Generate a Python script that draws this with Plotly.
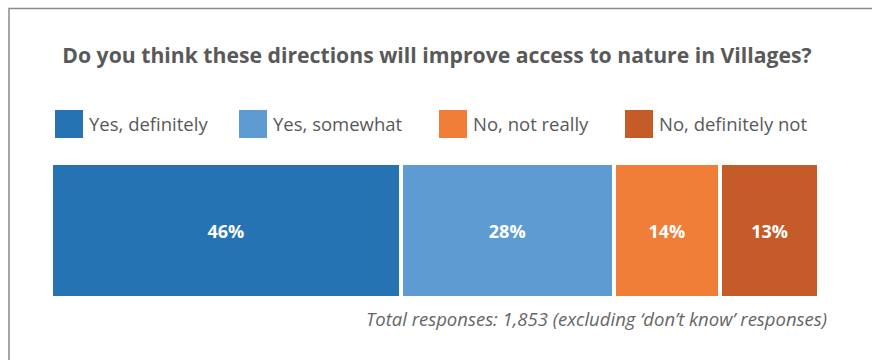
import plotly.graph_objects as go

# Survey answers and their shares (%)
categories = ["Yes, definitely", "Yes, somewhat", "No, not really", "No, definitely not"]
shares = [46, 28, 14, 13]
colors = ["#2673b4", "#5e9bd2", "#f07e38", "#c55b28"]

title_text = "Do you think these directions will improve access to nature in Villages?"
note_text = "Total responses: 1,853 (excluding \u2018don\u2019t know\u2019 responses)"

W, H = 872, 360
M_L, M_R, M_T, M_B = 51, 53, 163, 62
PW, PH = W - M_L - M_R, H - M_T - M_B


def px_x(px):
    return (px - M_L) / PW


def px_y(py):
    return (H - M_B - py) / PH


FONT = "Open Sans, Noto Sans, sans-serif"
TEXT_GREY = "#595959"

fig = go.Figure()
for cat, val, col in zip(categories, shares, colors):
    fig.add_trace(go.Bar(
        x=[val], y=[""], orientation="h", name=cat,
        marker=dict(color=col, line=dict(color="white", width=4)),
        text=[f"{val}%"], textposition="inside", insidetextanchor="middle",
        textfont=dict(family=FONT, size=18, color="white", weight="bold"),
        constraintext="none", hoverinfo="skip", showlegend=False,
    ))

# Hand-built legend with large swatches
legend_left = [55, 239, 439, 625]
shapes = []
annotations = []
for cat, col, lx in zip(categories, colors, legend_left):
    shapes.append(dict(type="rect", xref="paper", yref="paper",
                       x0=px_x(lx), x1=px_x(lx + 28), y0=px_y(138), y1=px_y(110),
                       fillcolor=col, line=dict(width=0), layer="above"))
    annotations.append(dict(text=cat, xref="paper", yref="paper",
                            x=px_x(lx + 32), y=px_y(124), xanchor="left", yanchor="middle",
                            showarrow=False,
                            font=dict(family=FONT, size=18.5, color=TEXT_GREY)))

# Frame edges (left and top) of the panel, drawn as a box whose right and
# bottom sides fall outside the figure
shapes.append(dict(type="path", xref="paper", yref="paper",
                   path=(f"M {px_x(9)},{px_y(H)} L {px_x(9)},{px_y(8.5)} "
                         f"L {px_x(W)},{px_y(8.5)}"),
                   line=dict(color="#8a8a8a", width=1.5)))

annotations.append(dict(text=f"<i>{note_text}</i>", xref="paper", yref="paper",
                        x=px_x(829), y=px_y(318), xanchor="right", yanchor="middle",
                        showarrow=False,
                        font=dict(family=FONT, size=18.5, color="#666666")))

fig.update_layout(
    width=W, height=H,
    margin=dict(l=M_L, r=M_R, t=M_T, b=M_B),
    paper_bgcolor="white", plot_bgcolor="white",
    barmode="stack", bargap=0, hovermode=False,
    title=dict(text=f"<b>{title_text}</b>", x=437 / W, xanchor="center",
               y=1 - 56 / H, yanchor="middle",
               font=dict(family=FONT, size=21.2, color=TEXT_GREY)),
    xaxis=dict(range=[0, sum(shares)], visible=False, fixedrange=True),
    yaxis=dict(range=[-0.5, 0.5], visible=False, fixedrange=True),
    shapes=shapes, annotations=annotations,
)

fig.write_html("out.html", config={"displayModeBar": False, "staticPlot": True})
